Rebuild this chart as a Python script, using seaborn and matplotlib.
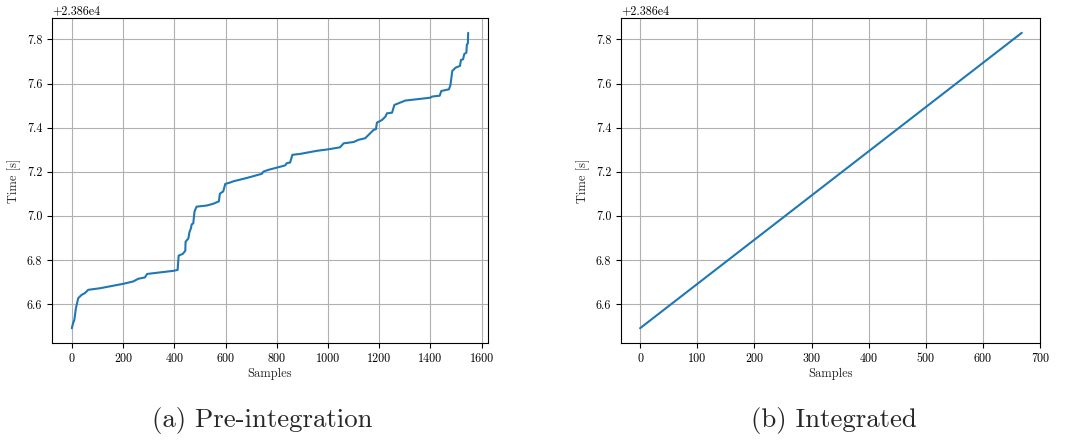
import numpy as np
import pandas as pd
import matplotlib
matplotlib.use("Agg")
import matplotlib.pyplot as plt
import seaborn as sns

# ---- data ----
pre_samples = [0, 5, 10, 16, 25, 38, 51, 64, 109, 200, 240, 259, 285, 294, 396, 413,
               417, 433, 443, 444, 455, 459, 465, 468, 474, 479, 487, 526, 552, 574,
               578, 591, 599, 617, 631, 683, 742, 748, 768, 833, 839, 852, 861, 891,
               956, 1002, 1047, 1061, 1100, 1119, 1145, 1165, 1178, 1187, 1191, 1211,
               1224, 1230, 1250, 1259, 1276, 1302, 1348, 1400, 1406, 1436, 1442, 1472,
               1478, 1485, 1498, 1515, 1519, 1527, 1532, 1540, 1542, 1546, 1547]
pre_time_rel = [6.491, 6.514, 6.529, 6.582, 6.627, 6.642, 6.650, 6.665, 6.672, 6.692,
                6.703, 6.715, 6.721, 6.737, 6.751, 6.755, 6.820, 6.828, 6.842, 6.883,
                6.898, 6.926, 6.944, 6.962, 6.966, 7.020, 7.042, 7.047, 7.055, 7.066,
                7.101, 7.111, 7.145, 7.151, 7.157, 7.172, 7.191, 7.201, 7.209, 7.229,
                7.239, 7.242, 7.277, 7.281, 7.295, 7.302, 7.311, 7.329, 7.335, 7.345,
                7.352, 7.375, 7.390, 7.393, 7.423, 7.435, 7.450, 7.465, 7.468, 7.503,
                7.511, 7.523, 7.529, 7.536, 7.541, 7.545, 7.566, 7.574, 7.594, 7.657,
                7.672, 7.680, 7.707, 7.710, 7.734, 7.740, 7.777, 7.782, 7.830]
int_samples = [0, 668]
int_time_rel = [6.491, 7.830]
time_base = 23860.0
captions = ["(a) Pre-integration", "(b) Integrated"]
x_label = "Samples"
y_label = "Time [s]"

pre_df = pd.DataFrame({"s": pre_samples, "t": np.array(pre_time_rel) + time_base})
int_df = pd.DataFrame({"s": int_samples, "t": np.array(int_time_rel) + time_base})

sns.set_theme(style="ticks")
plt.rcParams["font.family"] = ["cmr10", "DejaVu Serif"]
plt.rcParams["mathtext.fontset"] = "cm"
plt.rcParams["axes.unicode_minus"] = False
plt.rcParams["axes.formatter.use_mathtext"] = False

fig = plt.figure(figsize=(10.72, 4.40), dpi=100)
ax1 = fig.add_axes([0.0485, 0.2205, 0.4067, 0.7385])
ax2 = fig.add_axes([0.5793, 0.2205, 0.3909, 0.7385])

line_color = "#1f77b4"
sns.lineplot(data=pre_df, x="s", y="t", ax=ax1, color=line_color, linewidth=1.5,
             estimator=None, sort=False)
sns.lineplot(data=int_df, x="s", y="t", ax=ax2, color=line_color, linewidth=1.5,
             estimator=None, sort=False)

for ax in (ax1, ax2):
    ax.grid(True, color="#b0b0b0", linewidth=0.8)
    ax.set_axisbelow(True)
    for sp in ax.spines.values():
        sp.set_visible(True)
        sp.set_color("black")
        sp.set_linewidth(0.8)
    ax.tick_params(axis="both", labelsize=8.7, colors="black", length=3.5, width=0.8,
                   direction="out")
    ax.set_xlabel(x_label, fontsize=9, labelpad=2)
    ax.set_ylabel(y_label, fontsize=9, labelpad=4)
    ax.set_yticks([6.6 + time_base + 0.2 * i for i in range(7)])
    ax.yaxis.get_offset_text().set_fontsize(8.7)

ax1.set_xticks(range(0, 1601, 200))
ax2.set_xticks(range(0, 701, 100))
ax2.set_xlim(-33.4, 700)

fig.text(0.2449, 0.045, captions[0], ha="center", va="center", fontsize=19.3)
fig.text(0.7780, 0.045, captions[1], ha="center", va="center", fontsize=19.3)

fig.savefig("out.png", dpi=100)
